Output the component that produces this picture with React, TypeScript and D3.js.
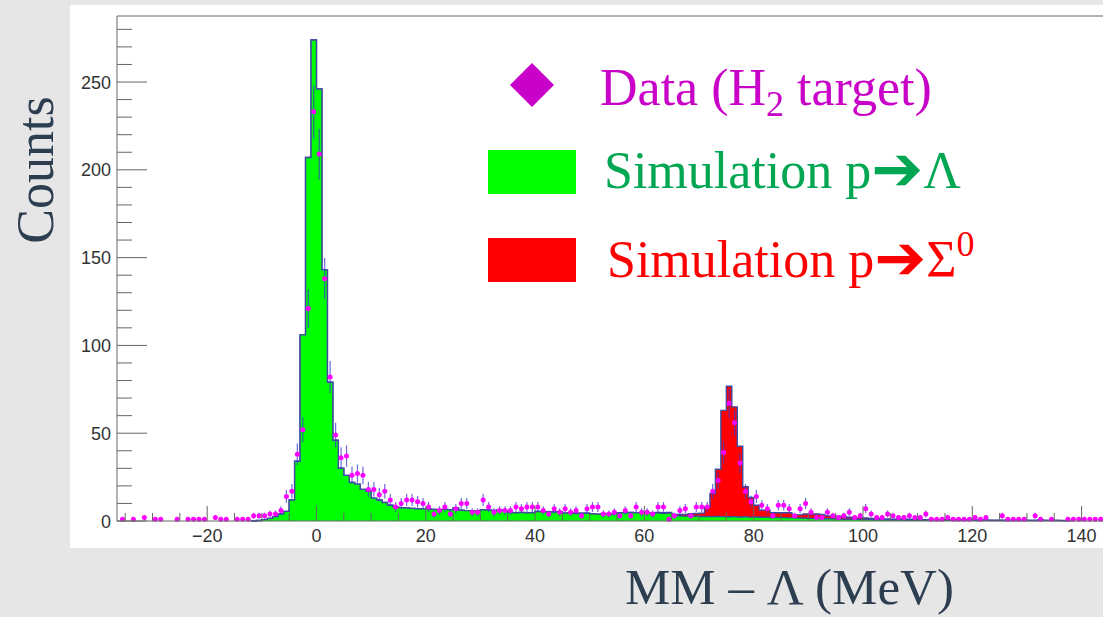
import React from "react";
import * as d3 from "d3";

// histogram ranges (MeV), 1 MeV bins
const xMin = -36.5;
const xMax = 147;
const yMax = 287.6;

// data (H2 target), first bin lower edge = dataStart
const dataStart = -36;
const dataCounts = [
  1, 0, 1, 0, 2, 0, 1, 1, 0, 0,
  1, 0, 1, 1, 1, 1, 0, 2, 1, 1,
  0, 1, 1, 1, 3, 3, 3, 4, 4, 6,
  14, 17, 38, 52, 121, 233, 209, 138, 82, 49,
  36, 37, 26, 27, 26, 18, 18, 15, 17, 12,
  8, 10, 12, 12, 11, 10, 8, 4, 6, 8,
  4, 7, 10, 10, 5, 5, 12, 8, 5, 6,
  6, 6, 8, 7, 8, 8, 8, 6, 4, 7,
  5, 7, 5, 6, 3, 7, 8, 8, 4, 4,
  5, 3, 6, 3, 8, 5, 5, 4, 8, 8,
  1, 3, 6, 7, 3, 8, 8, 8, 17, 23,
  39, 67, 56, 33, 17, 11, 14, 9, 7, 3,
  9, 9, 7, 3, 7, 10, 5, 2, 2, 5,
  3, 2, 3, 5, 2, 3, 7, 4, 2, 2,
  4, 3, 2, 2, 3, 2, 2, 4, 1, 1,
  1, 2, 1, 1, 1, 1, 2, 1, 2, 0,
  0, 3, 1, 1, 1, 1, 0, 3, 1, 0,
  1, 0, 0, 1, 1, 1, 1, 1, 1, 1,
];

// simulation p -> Lambda
const lambdaStart = -12;
const lambdaSim = [
  0, 0.3, 0.8, 1.5, 2.5, 4, 5.5, 12, 34, 106, 207, 273.9,
  246, 143, 79, 46, 30, 26, 22, 21, 18, 17,
  13, 12, 10.5, 9, 8, 7.6, 7.4, 7.2, 7, 6.9,
  6.8, 6.6, 6.5, 6.6, 6.4, 7.6, 6.1, 5.9, 5.9, 5.8,
  6.4, 6.2, 6, 6.1, 5.9, 4.8, 4.7, 4.9, 4.6, 4.7,
  5.4, 5.2, 5.3, 5.1, 5.3, 4.5, 4.6, 4.4, 4.5, 4.4,
  4.1, 3.9, 4, 4.1, 3.9, 4.7, 4.6, 4.8, 4.6, 4.7,
  4.5, 4.4, 4.6, 4.4, 4.5, 3.1, 2.9, 2.8, 2.8, 2.7,
  2.6, 2.6, 2.5, 2.6, 2.5, 2.4, 2.5, 2.3, 2.4, 2.2,
  2.3, 2.1, 2.2, 2.0, 2.0, 1.9, 1.8, 1.8, 1.7, 1.6,
  1.5, 1.5, 1.4, 1.3, 1.2, 1.1, 1.0, 1.0, 0.9, 0.9,
  0.8, 0.8, 0.7, 0.7, 0.7, 0.6, 0.7, 0.6, 0.6, 0.6,
  0.5, 0.5, 0.5, 0.5, 0.4, 0.5, 0.4, 0.4, 0.4, 0.4,
  0.4, 0.3, 0.4, 0.3, 0.3, 0.3, 0.3, 0.3, 0.2, 0.3,
  0.2, 0.2, 0.3, 0.2, 0.2, 0.2, 0.2, 0.1,
];

// simulation p -> Sigma0 (stacked on top of Lambda)
const sigmaStart = 62;
const sigmaSim = [
  0.2, 0.3, 0.4, 0.6, 0.8, 1.0, 1.3, 1.6,
  1.9, 5.4, 13.2, 26.9, 60.5, 74.3, 62.5, 40.3, 17.1, 11.2,
  6.7, 4.1, 4.0, 2.7, 2.7, 2.8, 2.9, 1.7, 1.8, 2.4,
  2.5, 2.5, 2.4, 1.6, 1.6, 1.6, 1.5, 1.1, 1.0, 1.0,
  0.9, 0.6, 0.8, 0.5, 0.5, 0.4, 0.5, 0.4, 0.4, 0.4,
  0.3, 0.3, 0.4, 0.3, 0.3, 0.3, 0.3, 0.2, 0.3, 0.3,
  0.2, 0.3, 0.2, 0.2, 0.2, 0.2, 0.2, 0.2, 0.2, 0.2,
  0.2, 0.3, 0.4, 0.3, 0.2, 0.2, 0.1, 0.1,
];

const xMajorTicks = [-20, 0, 20, 40, 60, 80, 100, 120, 140];
const yMajorTicks = [0, 50, 100, 150, 200, 250];

const x = d3.scaleLinear().domain([xMin, xMax]).range([117, 117 + (xMax - xMin) * 5.465]);
const y = d3.scaleLinear().domain([0, yMax]).range([521, 16]);

type Bin = { x0: number; v: number };

const lambdaBins: Bin[] = lambdaSim.map((v, i) => ({ x0: lambdaStart + i, v }));
const sumBins: Bin[] = lambdaBins.map((b) => {
  const j = b.x0 - sigmaStart;
  return { x0: b.x0, v: b.v + (j >= 0 && j < sigmaSim.length ? sigmaSim[j] : 0) };
});

const stepPoints = (bins: Bin[]): [number, number][] => {
  const pts: [number, number][] = [[x(bins[0].x0), y(0)]];
  bins.forEach((b) => {
    pts.push([x(b.x0), y(b.v)]);
    pts.push([x(b.x0 + 1), y(b.v)]);
  });
  pts.push([x(bins[bins.length - 1].x0 + 1), y(0)]);
  return pts;
};
const line = d3.line();

const outline = "#3f4aa0";

const Hist = ({ bins, fill }: { bins: Bin[]; fill: string }) => {
  const d = line(stepPoints(bins)) || "";
  return (
    <g>
      <path d={d + "Z"} fill={fill} stroke="none" />
      <path d={d} fill="none" stroke={outline} strokeWidth={1.4} />
    </g>
  );
};

export default function App() {
  const points = dataCounts
    .map((n, i) => ({ c: dataStart + i + 0.5, n }))
    .filter((p) => p.n > 0);

  const xMinor = d3.range(-35, xMax, 5).filter((t) => t % 20 !== 0);
  const yMinor = d3.range(10, yMax, 10).filter((t) => t % 50 !== 0);

  const serif = "'Liberation Serif', 'Times New Roman', serif";
  const sans = "'Liberation Sans', Arial, sans-serif";
  const arrowFont = "'DejaVu Sans', sans-serif";

  return (
    <svg width={1103} height={617} style={{ position: "absolute", left: 0, top: 0 }}>
      <rect width={1103} height={617} fill="#e6e6e6" />
      <rect x={70} y={5} width={1040} height={543} fill="#ffffff" />

      <Hist bins={sumBins} fill="#ff0000" />
      <Hist bins={lambdaBins} fill="#00ff00" />

      {/* data points */}
      <g>
        {points.map((p, i) => {
          const e = Math.sqrt(p.n);
          return (
            <line
              key={"e" + i}
              x1={x(p.c)}
              x2={x(p.c)}
              y1={y(Math.max(0, p.n - e))}
              y2={y(p.n + e)}
              stroke="#3a3ad0"
              strokeOpacity={0.75}
              strokeWidth={1.2}
            />
          );
        })}
        {points.map((p, i) => (
          <circle key={"m" + i} cx={x(p.c)} cy={y(p.n)} r={2.5} fill="#ff00ff" />
        ))}
      </g>

      {/* frame and ticks */}
      <g stroke="#666" strokeWidth={1}>
        <line x1={117} x2={1103} y1={16} y2={16} />
        <line x1={117} x2={117} y1={16} y2={521} />
        <line x1={117} x2={1103} y1={521} y2={521} />
        {xMajorTicks.map((t) => (
          <line key={"xM" + t} x1={x(t)} x2={x(t)} y1={521} y2={506} />
        ))}
        {xMinor.map((t) => (
          <line key={"xm" + t} x1={x(t)} x2={x(t)} y1={521} y2={513} />
        ))}
        {yMajorTicks.map((t) => (
          <line key={"yM" + t} x1={117} x2={147} y1={y(t)} y2={y(t)} />
        ))}
        {yMinor.map((t) => (
          <line key={"ym" + t} x1={117} x2={132} y1={y(t)} y2={y(t)} />
        ))}
      </g>

      <g fontFamily={sans} fontSize={18} fill="#333">
        {xMajorTicks.map((t) => (
          <text key={"xl" + t} x={x(t)} y={542} textAnchor="middle">
            {t < 0 ? "\u2212" + Math.abs(t) : t}
          </text>
        ))}
        {yMajorTicks.map((t) => (
          <text key={"yl" + t} x={111} y={y(t) + 6.5} textAnchor="end">
            {t}
          </text>
        ))}
      </g>

      {/* axis titles */}
      <text x={625} y={604} fontFamily={serif} fontSize={51} fill="#2c3e50">
        MM – Λ (MeV)
      </text>
      <text
        transform="translate(53,170) rotate(-90)"
        textAnchor="middle"
        fontFamily={serif}
        fontSize={52}
        fill="#2c3e50"
      >
        Counts
      </text>

      {/* legend */}
      <g fontFamily={serif} fontSize={52}>
        <path d="M532,63 L554,85 L532,107 L510,85 Z" fill="#c800c8" />
        <text x={600} y={105} fill="#c800c8">
          Data (H
          <tspan fontSize={36} dy={11}>2</tspan>
          <tspan dy={-11}> target)</tspan>
        </text>
        <rect x={488} y={150} width={88} height={44} fill="#00ff00" />
        <text x={604} y={188} fill="#00a651">
          Simulation p
          <tspan fontFamily={arrowFont} fontSize={62} dy={2}>➔</tspan>
          <tspan dy={-2}>Λ</tspan>
        </text>
        <rect x={488} y={238} width={88} height={44} fill="#ff0000" />
        <text x={607} y={277} fill="#ff0000">
          Simulation p
          <tspan fontFamily={arrowFont} fontSize={62} dy={2}>➔</tspan>
          <tspan dy={-2}>Σ</tspan>
          <tspan fontSize={36} dy={-21}>0</tspan>
        </text>
      </g>
    </svg>
  );
}
